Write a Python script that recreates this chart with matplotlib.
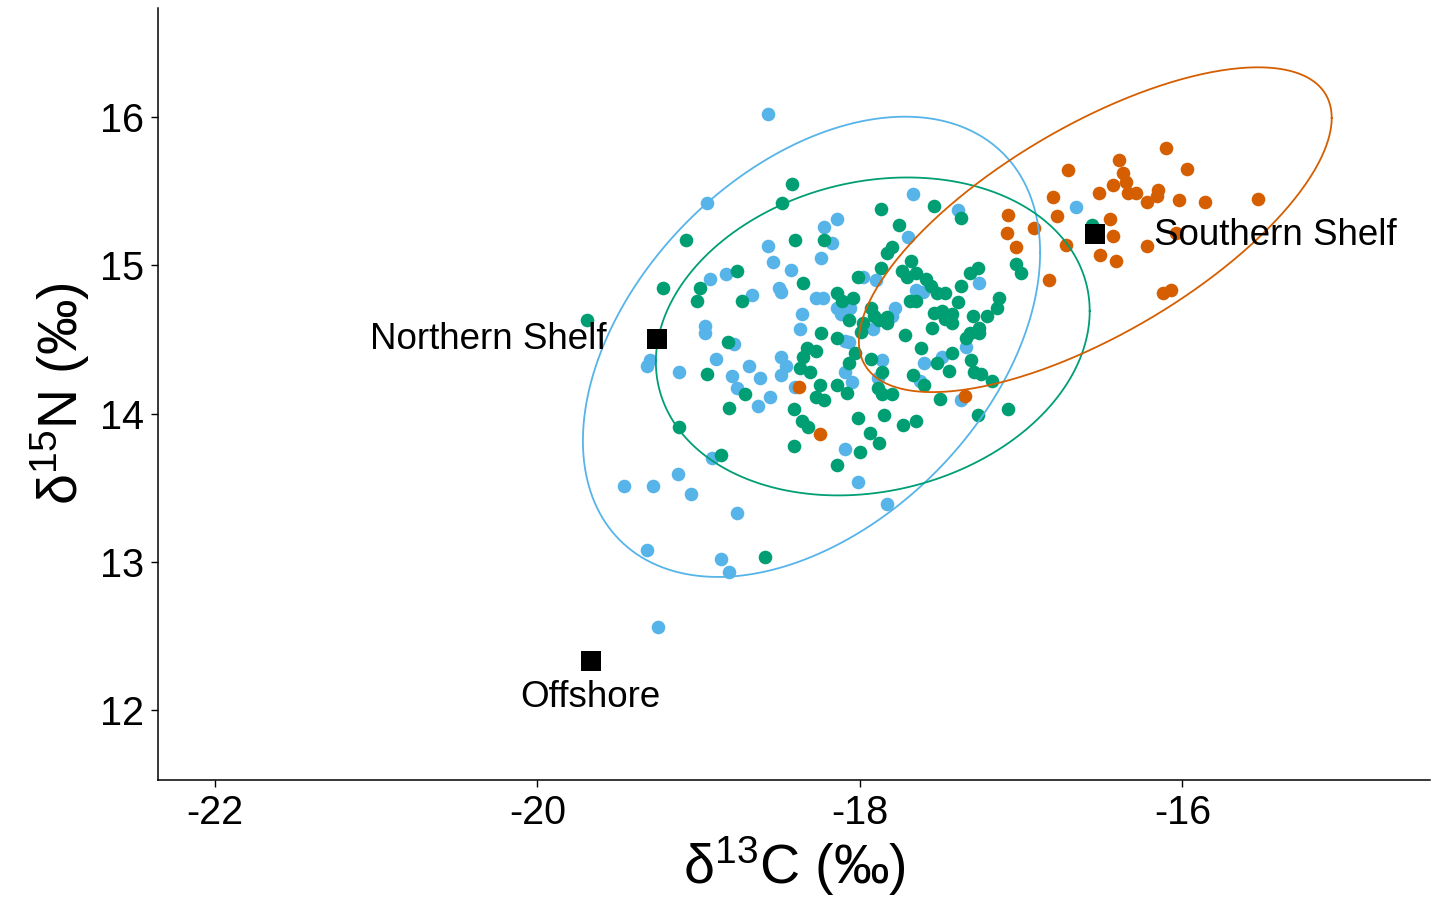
import numpy as np
import matplotlib
matplotlib.use("Agg")
import matplotlib.pyplot as plt

plt.rcParams["font.family"] = ["Liberation Sans", "DejaVu Sans"]
plt.rcParams["mathtext.fontset"] = "custom"
plt.rcParams["mathtext.rm"] = "Liberation Sans"
plt.rcParams["mathtext.it"] = "Liberation Sans:italic"
plt.rcParams["mathtext.default"] = "regular"

# --- isotope values by group -------------------------------------------------
blue_d13c = [-18.57, -18.95, -18.22, -18.57, -18.54, -18.43, -18.24, -18.93, -18.83, -18.50,
             -18.49, -18.67, -18.27, -18.23, -18.14, -18.17, -17.67, -17.39, -17.70, -17.98,
             -17.90, -17.26, -17.65, -17.61, -16.66, -18.36, -18.96, -18.96, -18.37, -18.78,
             -19.30, -19.32, -18.89, -19.12, -18.69, -18.79, -18.62, -18.49, -18.46, -18.49,
             -18.40, -18.76, -18.56, -18.63, -18.92, -18.14, -18.06, -18.12, -17.78, -17.80,
             -17.92, -18.09, -18.07, -17.34, -17.86, -17.49, -17.60, -18.09, -17.89, -18.05,
             -17.63, -17.37, -18.09, -19.46, -19.28, -19.13, -19.05, -18.76, -19.32, -18.86,
             -18.81, -19.25, -18.01, -17.83]
blue_d15n = [16.02, 15.42, 15.26, 15.13, 15.02, 14.97, 15.05, 14.91, 14.94, 14.85,
             14.82, 14.80, 14.78, 14.78, 15.31, 15.15, 15.48, 15.37, 15.19, 14.92,
             14.90, 14.88, 14.83, 14.82, 15.39, 14.67, 14.59, 14.54, 14.57, 14.47,
             14.36, 14.32, 14.37, 14.28, 14.32, 14.25, 14.24, 14.38, 14.32, 14.26,
             14.18, 14.17, 14.11, 14.05, 13.70, 14.71, 14.71, 14.67, 14.71, 14.66,
             14.57, 14.49, 14.48, 14.45, 14.36, 14.38, 14.34, 14.28, 14.24, 14.21,
             14.22, 14.09, 13.76, 13.51, 13.51, 13.59, 13.46, 13.33, 13.08, 13.02,
             12.93, 12.56, 13.54, 13.39]

green_d13c = [-18.42, -18.48, -19.08, -18.40, -18.22, -18.76, -19.22, -18.99, -18.35, -18.73,
              -19.01, -17.87, -17.54, -17.37, -17.76, -17.80, -17.83, -17.68, -17.87, -17.74,
              -18.01, -17.71, -17.65, -17.59, -17.32, -17.27, -17.37, -17.56, -17.52, -17.47,
              -18.14, -18.04, -17.14, -17.03, -17.00, -16.56, -19.69, -18.24, -18.82, -18.95,
              -18.33, -18.27, -18.35, -18.37, -18.31, -18.71, -18.81, -18.41, -18.25, -18.27,
              -18.22, -18.36, -18.32, -18.41, -19.12, -18.86, -18.11, -17.93, -17.91, -17.88,
              -17.83, -17.83, -17.69, -17.65, -17.54, -17.49, -17.43, -17.47, -17.43, -17.39,
              -17.30, -17.21, -17.15, -17.26, -17.32, -17.26, -18.07, -17.98, -17.99, -17.72,
              -17.55, -18.14, -17.34, -17.62, -18.03, -17.93, -17.43, -17.52, -17.31, -18.07,
              -17.86, -17.45, -17.29, -17.25, -17.67, -18.14, -18.08, -17.60, -17.89, -17.86,
              -17.80, -17.18, -17.50, -17.08, -17.27, -18.01, -17.85, -17.73, -17.65, -17.94,
              -17.88, -18.00, -18.14, -18.59]
green_d15n = [15.55, 15.42, 15.17, 15.17, 15.17, 14.96, 14.85, 14.85, 14.88, 14.76,
              14.76, 15.38, 15.40, 15.32, 15.27, 15.12, 15.08, 15.03, 14.98, 14.96,
              14.92, 14.92, 14.95, 14.91, 14.95, 14.98, 14.86, 14.86, 14.81, 14.81,
              14.81, 14.78, 14.78, 15.01, 14.95, 15.27, 14.63, 14.54, 14.48, 14.27,
              14.44, 14.42, 14.38, 14.31, 14.28, 14.13, 14.04, 14.03, 14.19, 14.11,
              14.09, 13.95, 13.91, 13.78, 13.91, 13.72, 14.76, 14.71, 14.66, 14.63,
              14.61, 14.65, 14.76, 14.76, 14.68, 14.69, 14.67, 14.64, 14.61, 14.75,
              14.66, 14.66, 14.71, 14.58, 14.54, 14.54, 14.63, 14.61, 14.55, 14.53,
              14.58, 14.51, 14.51, 14.44, 14.41, 14.37, 14.41, 14.34, 14.36, 14.34,
              14.28, 14.29, 14.28, 14.27, 14.26, 14.19, 14.14, 14.19, 14.17, 14.13,
              14.13, 14.22, 14.10, 14.03, 13.99, 13.97, 13.99, 13.92, 13.95, 13.87,
              13.80, 13.74, 13.65, 13.03]

orange_d13c = [-16.71, -16.80, -16.78, -17.08, -17.09, -16.92, -16.72, -17.03, -16.83, -16.10,
               -16.39, -16.37, -16.35, -16.43, -16.52, -16.34, -16.29, -16.15, -16.16, -16.22,
               -15.97, -16.02, -15.86, -15.53, -16.45, -16.43, -16.51, -16.41, -16.22, -16.04,
               -16.12, -16.07, -18.38, -18.25, -17.35]
orange_d15n = [15.64, 15.46, 15.33, 15.34, 15.22, 15.25, 15.14, 15.12, 14.90, 15.79,
               15.71, 15.62, 15.56, 15.54, 15.49, 15.49, 15.49, 15.51, 15.47, 15.43,
               15.65, 15.44, 15.43, 15.45, 15.31, 15.20, 15.07, 15.03, 15.13, 15.22,
               14.81, 14.83, 14.18, 13.86, 14.12]

# ellipse centres and shape matrices [[sxx, sxy], [sxy, syy]]
blue_ell_center = (-18.30, 14.45)
blue_ell_shape = [[2.01, 0.90], [0.90, 2.41]]
green_ell_center = (-17.92, 14.52)
green_ell_shape = [[1.81, 0.23], [0.23, 1.15]]
orange_ell_center = (-16.54, 15.24)
orange_ell_shape = [[2.15, 1.105], [1.105, 1.20]]

# source end-members
source_names = ["Northern Shelf", "Southern Shelf", "Offshore"]
source_d13c = [-19.26, -16.54, -19.67]
source_d15n = [14.50, 15.21, 12.33]

x_ticks = [-22, -20, -18, -16]
y_ticks = [12, 13, 14, 15, 16]

c_blue = "#56B4E9"
c_green = "#009E73"
c_orange = "#D55E00"


def ellipse_path(center, shape, n=400):
    t = np.linspace(0, 2 * np.pi, n)
    L = np.linalg.cholesky(np.asarray(shape, dtype=float))
    circ = np.vstack([np.cos(t), np.sin(t)])
    pts = L @ circ
    return center[0] + pts[0], center[1] + pts[1]


fig = plt.figure(figsize=(14.43, 8.99), dpi=100)
ax = fig.add_axes([0.1095, 0.1324, 0.8815, 0.8586])

ms = 96
ax.scatter(blue_d13c, blue_d15n, s=ms, color=c_blue, linewidths=0, zorder=2)
ax.scatter(green_d13c, green_d15n, s=ms, color=c_green, linewidths=0, zorder=2)
ax.scatter(orange_d13c, orange_d15n, s=ms, color=c_orange, linewidths=0, zorder=2)

for cen, shp, col in [(blue_ell_center, blue_ell_shape, c_blue),
                      (green_ell_center, green_ell_shape, c_green),
                      (orange_ell_center, orange_ell_shape, c_orange)]:
    ex, ey = ellipse_path(cen, shp)
    ax.plot(ex, ey, color=col, lw=1.3, zorder=3)

ax.scatter(source_d13c, source_d15n, s=190, marker="s", color="black",
           linewidths=0, zorder=4)

label_offsets = {"Northern Shelf": ((-36, 0), "right", "center"),
                 "Southern Shelf": ((42, -1), "left", "center"),
                 "Offshore": ((0, -26), "center", "center")}
for name, sx, sy in zip(source_names, source_d13c, source_d15n):
    off, ha, va = label_offsets[name]
    ax.annotate(name, (sx, sy), xytext=off, textcoords="offset points",
                ha=ha, va=va, fontsize=26.5, color="black", zorder=5)

ax.set_xlim(-22.353, -14.464)
ax.set_ylim(11.528, 16.735)
ax.set_xticks(x_ticks)
ax.set_yticks(y_ticks)
ax.set_xticklabels([str(v) for v in x_ticks])
ax.set_yticklabels([str(v) for v in y_ticks])
ax.tick_params(axis="both", labelsize=28.5, length=5, width=1.0, color="black",
               labelcolor="black", pad=5)

for side in ["top", "right"]:
    ax.spines[side].set_visible(False)
for side in ["left", "bottom"]:
    ax.spines[side].set_linewidth(1.1)
    ax.spines[side].set_color("black")

ax.set_xlabel(r"δ$^{13}$C (‰)", fontsize=40, labelpad=2)
ax.set_ylabel(r"δ$^{15}$N (‰)", fontsize=40, labelpad=6)

fig.savefig("out.png", dpi=100, facecolor="white")
